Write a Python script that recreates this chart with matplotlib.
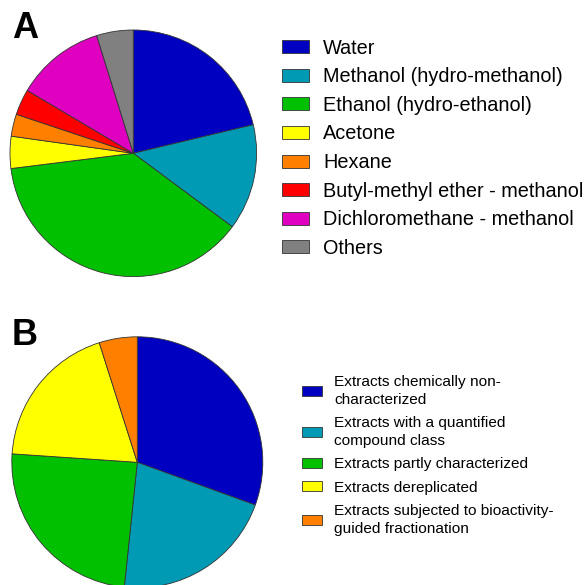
import matplotlib
matplotlib.use("Agg")
import matplotlib.pyplot as plt

plt.rcParams['font.family'] = ['Liberation Sans', 'DejaVu Sans']

# Panel A data (share of extraction solvents, %)
solvents = ["Water", "Methanol (hydro-methanol)", "Ethanol (hydro-ethanol)", "Acetone",
            "Hexane", "Butyl-methyl ether - methanol", "Dichloromethane - methanol", "Others"]
solvent_share = [21.3, 13.9, 37.9, 4.2, 2.9, 3.4, 11.7, 4.8]
solvent_colors = ["#0000C0", "#009AB5", "#00C000", "#FFFF00", "#FF8000", "#FF0000", "#E000C0", "#808080"]

# Panel B data (characterization level, %)
levels = ["Extracts chemically non-\ncharacterized", "Extracts with a quantified\ncompound class",
          "Extracts partly characterized", "Extracts dereplicated",
          "Extracts subjected to bioactivity-\nguided fractionation"]
level_share = [30.5, 21.1, 24.4, 19.0, 4.9]
level_colors = ["#0000C0", "#009AB5", "#00C000", "#FFFF00", "#FF8000"]

W, H = 587, 585
fig = plt.figure(figsize=(W / 100, H / 100), dpi=100)

def px_axes(cx, cy, r):
    return fig.add_axes([(cx - r) / W, (H - cy - r) / H, 2 * r / W, 2 * r / H])

wp = dict(edgecolor="#333333", linewidth=0.6)

axA = px_axes(133.3, 153.3, 123.3)
wedgesA, _ = axA.pie(solvent_share, colors=solvent_colors, startangle=90, counterclock=False,
                     wedgeprops=wp, radius=1)
axA.set_xlim(-1, 1); axA.set_ylim(-1, 1)
axA.axis("off")

axB = px_axes(137.3, 462.3, 125.5)
wedgesB, _ = axB.pie(level_share, colors=level_colors, startangle=90, counterclock=False,
                     wedgeprops=wp, radius=1)
axB.set_xlim(-1, 1); axB.set_ylim(-1, 1)
axB.axis("off")

fig.text(12 / W, 1 - 38 / H, "A", fontsize=26, fontweight="bold", ha="left", va="baseline")
fig.text(12 / W, 1 - 345 / H, "B", fontsize=26, fontweight="bold", ha="left", va="baseline")

fsA = 14.3
legA = fig.legend(wedgesA, solvents, loc="upper left", bbox_to_anchor=(281.7 / W, 1 - 38.5 / H),
                  frameon=False, fontsize=fsA, handlelength=1.39, handleheight=0.63,
                  handletextpad=0.7, labelspacing=0.485, borderpad=0, borderaxespad=0)

fsB = 11.1
legB = fig.legend(wedgesB, levels, loc="upper left", bbox_to_anchor=(301.7 / W, 1 - 375 / H),
                  frameon=False, fontsize=fsB, handlelength=1.34, handleheight=0.65,
                  handletextpad=0.76, labelspacing=0.62, borderpad=0, borderaxespad=0)
for t in legB.get_texts():
    t.set_linespacing(1.32)

fig.savefig("out.png", dpi=100)
